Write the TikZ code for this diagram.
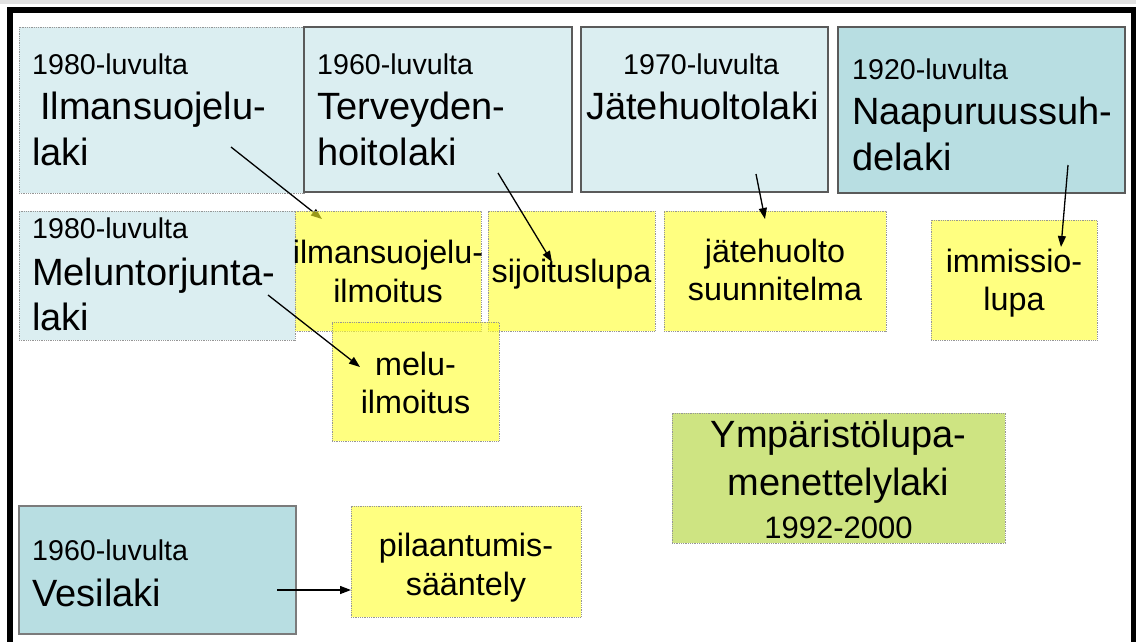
\documentclass[tikz,border=0pt]{standalone}
\usepackage{fontspec}
\setmainfont{Liberation Sans}
\usetikzlibrary{arrows.meta}
\definecolor{lblue}{RGB}{219,238,241}
\definecolor{dblue}{RGB}{184,222,226}
\definecolor{yel}{RGB}{255,255,43}
\definecolor{grn}{RGB}{206,228,130}
\definecolor{bord}{RGB}{90,90,90}
\definecolor{dotc}{RGB}{150,150,150}
\definecolor{topgray}{RGB}{225,225,225}
\tikzset{
  box/.style={rectangle, inner sep=0pt, outer sep=0pt, anchor=north west},
  solidbox/.style={box, draw=bord, line width=1.2pt},
  dotbox/.style={box, draw=dotc, line width=0.9pt, dash pattern=on 0.9pt off 0.9pt},
  ybox/.style={dotbox, fill=yel, fill opacity=0.6, draw opacity=1},
  smalltxt/.style={font=\fontsize{28.6}{34}\selectfont, inner sep=0pt, anchor=base west},
  bigtxt/.style={font=\fontsize{38}{46}\selectfont, inner sep=0pt, anchor=base west},
  bigc/.style={font=\fontsize{38}{46}\selectfont, inner sep=0pt, anchor=base},
  ytxt/.style={font=\fontsize{32.3}{39}\selectfont, inner sep=0pt, anchor=base},
  arr/.style={-{Triangle[length=11pt,width=8pt]}, line width=1.3pt, black},
}
\begin{document}
\begin{tikzpicture}[x=1pt,y=-1pt]
\useasboundingbox (0,0) rectangle (1136,641);
\clip (0,0) rectangle (1136,641);
\fill[topgray] (0,0) rectangle (1136,4);
\draw[line width=6pt, black] (10,10) rectangle (1134,700);
% law boxes
\node[dotbox, fill=lblue, minimum width=285pt, minimum height=166pt] (A) at (19,27) {};
\node[solidbox, fill=lblue, minimum width=268pt, minimum height=165pt] (B) at (304,27) {};
\node[solidbox, fill=lblue, minimum width=247pt, minimum height=165pt] (C) at (581,27) {};
\node[solidbox, fill=dblue, minimum width=287pt, minimum height=166pt] (D) at (838,27) {};
\node[dotbox, fill=lblue, minimum width=276pt, minimum height=129pt] (E) at (19,211) {};
\node[solidbox, draw=bord!80, fill=dblue, minimum width=277pt, minimum height=128pt] (L) at (19,506) {};
% arrow under the first yellow box
\coordinate (a0) at (231,147);
\coordinate (a1) at (322,219);
\draw[arr] (a0) -- (a1);
% yellow boxes
\node[ybox, minimum width=186pt, minimum height=120pt] (F) at (295,211) {};
\node[ybox, minimum width=167pt, minimum height=120pt] (G) at (488,211) {};
\node[ybox, minimum width=222pt, minimum height=120pt] (H) at (664,211) {};
\node[ybox, minimum width=166pt, minimum height=120pt] (I) at (931,220) {};
\node[ybox, minimum width=167pt, minimum height=119pt] (J) at (332,322) {};
\node[dotbox, fill=grn, minimum width=333pt, minimum height=130pt] (K) at (672,413) {};
\node[ybox, minimum width=230pt, minimum height=111pt] (M) at (351,506) {};
% texts
\node[smalltxt] (A1) at (32,74) {1980-luvulta};
\node[bigtxt] (A2) at (40,119) {Ilmansuojelu-};
\node[bigtxt] (A3) at (32,165) {laki};
\node[smalltxt] (B1) at (317,74) {1960-luvulta};
\node[bigtxt] (B2) at (317,119) {Terveyden-};
\node[bigtxt] (B3) at (317,165) {hoitolaki};
\node[smalltxt] (C1) at (623,74) {1970-luvulta};
\node[bigtxt] (C2) at (586,119) {Jätehuoltolaki};
\node[smalltxt] (D1) at (852,79) {1920-luvulta};
\node[bigtxt] (D2) at (852,124) {Naapuruussuh-};
\node[bigtxt] (D3) at (852,170) {delaki};
\node[smalltxt] (E1) at (32,238) {1980-luvulta};
\node[bigtxt] (E2) at (32,285) {Meluntorjunta-};
\node[bigtxt] (E3) at (32,330) {laki};
\node[ytxt] (F1) at (388,263) {ilmansuojelu-};
\node[ytxt] (F2) at (388,302) {ilmoitus};
\node[ytxt] (G1) at (571.5,282) {sijoituslupa};
\node[ytxt] (H1) at (775,262) {jätehuolto};
\node[ytxt] (H2) at (775,300) {suunnitelma};
\node[ytxt] (I1) at (1014,272) {immissio-};
\node[ytxt] (I2) at (1014,310) {lupa};
\node[ytxt] (J1) at (415.5,375) {melu-};
\node[ytxt] (J2) at (415.5,413) {ilmoitus};
\node[bigc] (K1) at (838.5,447) {Ympäristölupa-};
\node[bigc] (K2) at (838.5,495) {menettelylaki};
\node[ytxt, font=\fontsize{31}{37}\selectfont] (K3) at (838.5,538) {1992-2000};
\node[smalltxt] (L1) at (32,560) {1960-luvulta};
\node[bigtxt] (L2) at (32,606) {Vesilaki};
\node[ytxt] (M1) at (466,556) {pilaantumis-};
\node[ytxt] (M2) at (466,595) {sääntely};
% arrows on top
\coordinate (b0) at (498,173);
\coordinate (b1) at (552,262);
\draw[arr] (b0) -- (b1);
\coordinate (c0) at (756,174);
\coordinate (c1) at (765,219);
\draw[arr] (c0) -- (c1);
\coordinate (d0) at (1068,165);
\coordinate (d1) at (1061,247);
\draw[arr] (d0) -- (d1);
\coordinate (e0) at (268,295);
\coordinate (e1) at (360,367);
\draw[arr] (e0) -- (e1);
\coordinate (l0) at (277,590);
\draw[arr] (l0) -- (M.west |- l0);
\end{tikzpicture}
\end{document}
